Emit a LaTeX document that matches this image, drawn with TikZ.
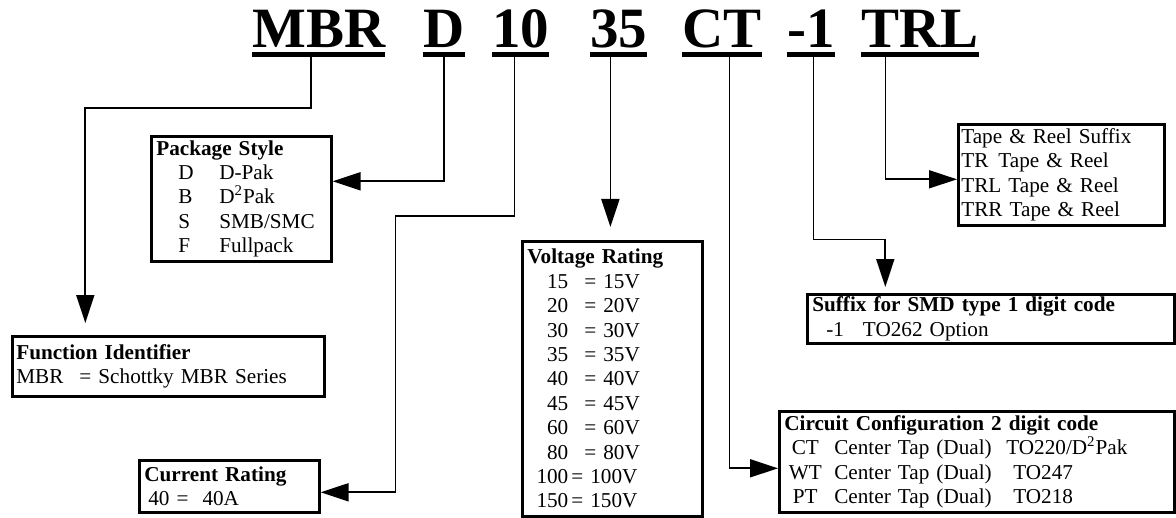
\documentclass[tikz,border=0pt]{standalone}
\usepackage{fontspec}
\setmainfont{Liberation Serif}
\usetikzlibrary{arrows.meta}
\newcommand{\boxfont}{\fontsize{10.6}{12.2}\selectfont}
\newcommand{\ulpart}[1]{\setbox0\hbox{#1}\rlap{\copy0}\rule[-4.5pt]{\wd0}{2.5pt}}
\newcommand{\voltrow}[2]{\makebox[20.5pt][r]{#1}\hspace{#2}= #1V}
\newcommand{\ccrow}[2]{\hspace*{2pt}\makebox[17pt]{#1}\hspace{6pt}\makebox[86pt][l]{Center Tap (Dual)}#2}
\newcommand{\pkrow}[2]{\hspace*{11pt}\makebox[20.5pt][l]{#1}#2}

\begin{document}
\begin{tikzpicture}[
    x=0.5pt, y=-0.5pt,
    code/.style={anchor=base west, inner sep=0pt,
                 font=\fontsize{28.5}{30}\selectfont\bfseries},
    box/.style={draw, line width=1.3pt, anchor=north west, align=left,
                inner xsep=2.5pt, inner ysep=0pt, font=\boxfont},
    link/.style={-{Triangle[length=14pt,width=9pt]}, line width=0.9pt},
  ]
    \useasboundingbox (0,0) rectangle (1176,518);
    % ---- part number ----
    \node[code] (mbr)  at (252,48) {\ulpart{MBR}};
    \node[code] (pak)  at (423,48) {\ulpart{D}};
    \node[code] (amp)  at (492,48) {\ulpart{10}};
    \node[code] (volt) at (590,48) {\ulpart{35}};
    \node[code] (conf) at (682,48) {\ulpart{CT}};
    \node[code] (opt)  at (787,48) {\ulpart{-1}};
    \node[code] (reel) at (861,48) {\ulpart{TRL}};
    % ---- boxes ----
    \node[box, text width=85pt, minimum height=62.5pt] (pkg) at (150,135)
      {\textbf{Package Style}\\
       \pkrow{D}{D-Pak}\\
       \pkrow{B}{D\textsuperscript{2}Pak}\\
       \pkrow{S}{SMB/SMC}\\
       \pkrow{F}{Fullpack}};
    \node[box, text width=152pt, minimum height=30pt, inner xsep=2pt] (fn) at (11,335)
      {\textbf{Function Identifier}\\
       MBR\hspace{8pt}= Schottky MBR Series};
    \node[box, text width=85pt, minimum height=26pt] (cur) at (138,459)
      {\textbf{Current Rating}\\
       \hspace*{2pt}40 =\hspace{7pt}40A};
    \node[box, text width=85pt, minimum height=137.5pt] (vr) at (521,240)
      {\textbf{Voltage Rating}\\
       \voltrow{15}{8pt}\\
       \voltrow{20}{8pt}\\
       \voltrow{30}{8pt}\\
       \voltrow{35}{8pt}\\
       \voltrow{40}{8pt}\\
       \voltrow{45}{8pt}\\
       \voltrow{60}{8pt}\\
       \voltrow{80}{8pt}\\
       \voltrow{100}{1.5pt}\\
       \voltrow{150}{1.5pt}};
    \node[box, text width=192.5pt, minimum height=50.5pt] (cc) at (778,410)
      {\textbf{Circuit Configuration 2 digit code}\\
       \ccrow{CT}{TO220/D\textsuperscript{2}Pak}\\
       \ccrow{WT}{\hspace{3.5pt}TO247}\\
       \ccrow{PT}{\hspace{3.5pt}TO218}};
    \node[box, text width=178.5pt, minimum height=24.5pt] (sfx) at (806,293)
      {\textbf{Suffix for SMD type 1 digit code}\\
       \hspace*{7pt}-1\hspace{9.5pt}TO262 Option};
    \node[box, text width=100pt, minimum height=50.5pt, inner xsep=1.5pt] (tr) at (957,123)
      {Tape \& Reel Suffix\\
       TR\hspace{5pt}Tape \& Reel\\
       TRL Tape \& Reel\\
       TRR Tape \& Reel};
    % ---- connectors ----
    \draw[link, shorten >=6pt] ([xshift=-3.75pt]mbr.south) -- ++(0,51)
      -| ([xshift=-41.5pt]fn.north);
    \draw[link] (pak.south) |- ([yshift=8.75pt]pkg.east);
    \draw[link] ([xshift=-3.25pt]amp.south) -- ++(0,159) -- ++(-119,0)
      |- ([yshift=-3pt]cur.east);
    \draw[link, shorten >=6.5pt] ([xshift=-4.25pt]volt.south)
      -- ([xshift=-4.25pt]volt.south |- vr.north);
    \draw[link] ([xshift=3.75pt]conf.south) |- ([yshift=-3.25pt]cc.west);
    \draw[link, shorten >=3pt] ([xshift=1.2pt]opt.south) -- ++(0,182)
      -| ([xshift=-52.75pt]sfx.north);
    \draw[link] ([xshift=-17.3pt]reel.south) |- ([yshift=-2.25pt]tr.west);
\end{tikzpicture}
\end{document}
